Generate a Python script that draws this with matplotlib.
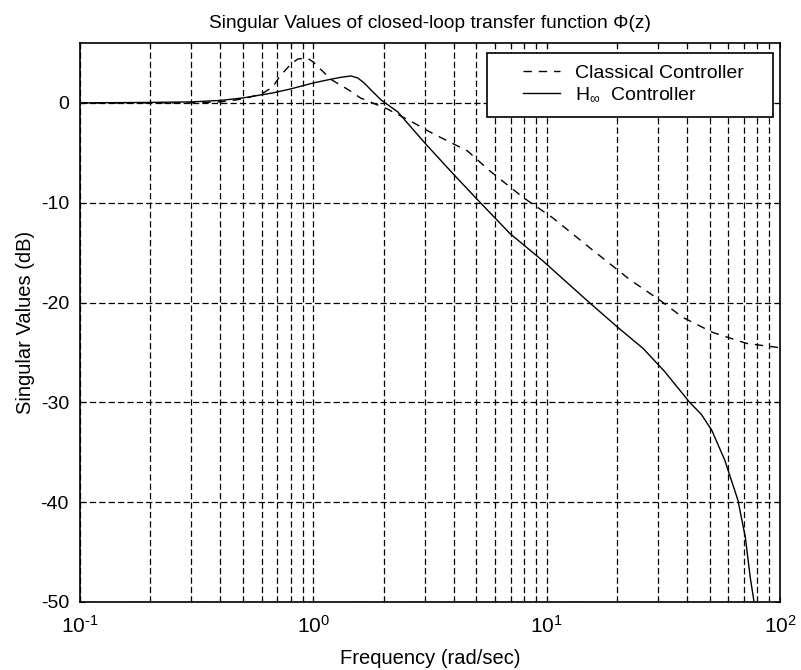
import matplotlib
matplotlib.use("Agg")
import matplotlib.pyplot as plt
from matplotlib.patches import Rectangle

plt.rcParams['font.family'] = ['Liberation Sans', 'DejaVu Sans']
plt.rcParams['mathtext.fontset'] = 'custom'
plt.rcParams['mathtext.rm'] = 'Liberation Sans'
plt.rcParams['mathtext.it'] = 'Liberation Sans'
plt.rcParams['mathtext.default'] = 'rm'
plt.rcParams['axes.unicode_minus'] = False

# H-infinity controller singular values (dB)
hinf_freq = [0.1, 0.2, 0.3, 0.4, 0.5, 0.67, 0.8, 1.0, 1.15, 1.3, 1.45, 1.55,
             1.65, 1.8, 1.95, 2.3, 3.0, 3.97, 5.1, 6.97, 9.6, 14.9, 20.2, 25.9,
             32, 41, 46, 51, 58, 66, 71, 74.5, 78]
hinf_db = [0.0, 0.05, 0.1, 0.25, 0.5, 1.0, 1.4, 2.0, 2.3, 2.55, 2.7, 2.5,
           2.0, 1.1, 0.3, -0.9, -4.0, -7.1, -9.8, -13.1, -15.8, -19.8, -22.5,
           -24.6, -26.9, -30.0, -31.2, -32.8, -35.8, -39.8, -43.5, -47.5, -50.5]

# classical controller singular values (dB)
clas_freq = [0.1, 0.3, 0.4, 0.5, 0.6, 0.67, 0.72, 0.81, 0.86, 0.94, 1.0, 1.07,
             1.2, 1.44, 1.59, 2.07, 2.6, 3.27, 4.57, 5.7, 7.2, 8.3, 10.6, 14.9,
             22.7, 30.7, 38.4, 51.5, 72, 98]
clas_db = [0.0, 0.0, 0.1, 0.4, 0.9, 1.6, 2.7, 4.0, 4.4, 4.5, 4.1, 3.4, 2.3,
           1.2, 0.5, -0.6, -1.8, -3.1, -4.8, -6.8, -8.7, -9.8, -11.5, -14.3,
           -17.7, -19.8, -21.5, -23.0, -24.1, -24.5]

yticks = [-50, -40, -30, -20, -10, 0]
xticks = [0.1, 1, 10, 100]
xticklabels = ['$10^{\\text{-}1}$', '$10^{0}$', '$10^{1}$', '$10^{2}$']

fig = plt.figure(figsize=(8.01, 6.70), dpi=100)
ax = fig.add_axes([0.0999, 0.1015, 0.8739, 0.8343])

ax.semilogx(clas_freq, clas_db, color='black', lw=1.0, linestyle=(0, (6, 5)),
            label='Classical Controller')
ax.semilogx(hinf_freq, hinf_db, color='black', lw=1.0,
            label=r'H$_{\infty}$  Controller')

ax.set_xlim(0.1, 100)
ax.set_ylim(-50, 6)
ax.set_yticks(yticks)
ax.set_xticks(xticks)
ax.set_xticklabels(xticklabels)
ax.tick_params(which='both', direction='in', width=0.8, top=True, right=True)
ax.tick_params(axis='y', pad=8, labelsize=14)
ax.tick_params(axis='x', pad=9, labelsize=15)

ax.grid(True, which='both', axis='x', color='black', lw=0.9, linestyle=(0, (5, 2.5)))
ax.grid(True, which='major', axis='y', color='black', lw=0.9, linestyle=(0, (5, 2.5)))
for s in ax.spines.values():
    s.set_linewidth(1.2)

ax.set_title('Singular Values of closed-loop transfer function Φ(z)',
             fontsize=13.8, pad=11)
ax.set_xlabel('Frequency (rad/sec)', fontsize=14.5, labelpad=9)
ax.set_ylabel('Singular Values (dB)', fontsize=14.5, labelpad=4)

# boxed legend with wide left margin
box = Rectangle((0.581, 0.868), 0.409, 0.114, transform=ax.transAxes,
                facecolor='white', edgecolor='black', lw=1.2, zorder=4)
ax.add_patch(box)
leg = ax.legend(loc='upper left', bbox_to_anchor=(0.633, 0.962), fontsize=14,
                handlelength=1.9, handletextpad=0.77, frameon=False,
                borderpad=0.0, labelspacing=0.2, borderaxespad=0.0)
leg.set_zorder(5)

fig.savefig('out.png', dpi=100)
